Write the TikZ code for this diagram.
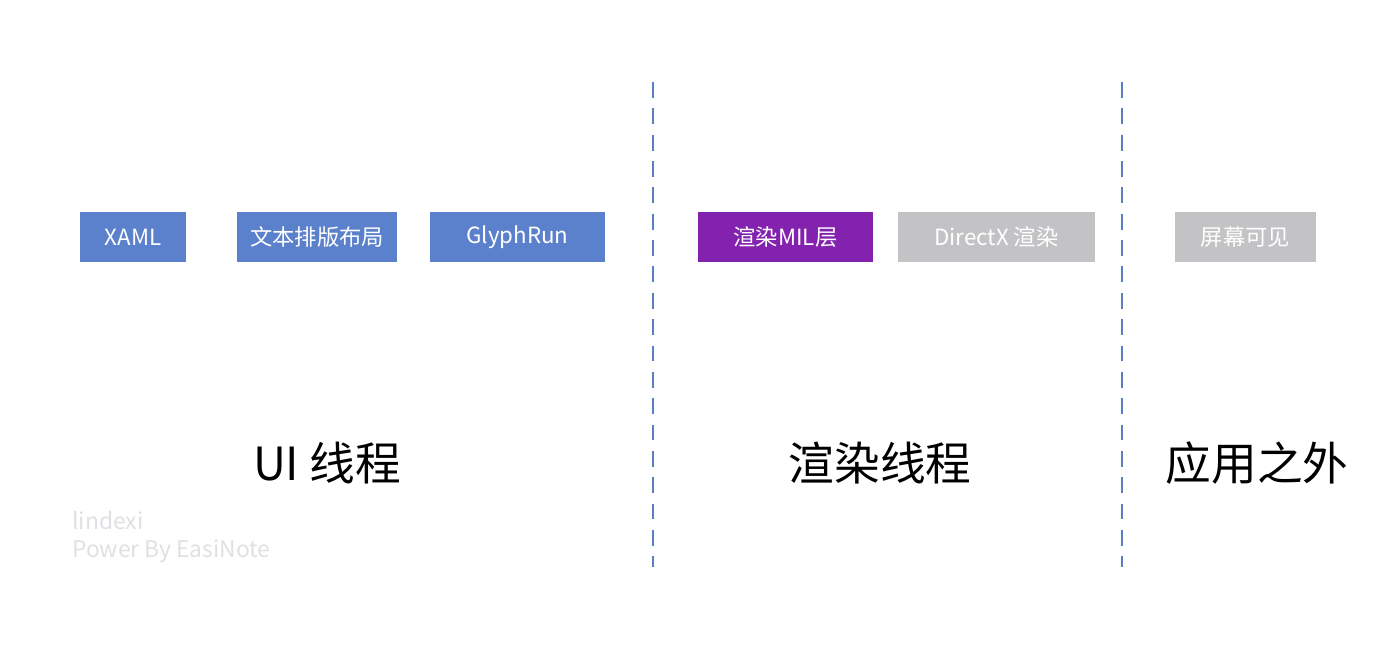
\documentclass[tikz,border=0pt]{standalone}
\usepackage{fontspec}
\setmainfont{Noto Sans CJK SC}
\usepackage{tikz}

\definecolor{stepblue}{HTML}{5B80CC}
\definecolor{milpurple}{HTML}{8422B0}
\definecolor{offgrey}{HTML}{C3C3C6}
\definecolor{markgrey}{HTML}{E0E0E4}
\definecolor{lineblue}{HTML}{5B7FC4}

\tikzset{
  stagebox/.style={minimum height=50*0.02cm, inner sep=0pt, text=white, font=\fontsize{12.7}{14}\selectfont},
  threadname/.style={font=\fontsize{26}{30}\selectfont},
  divider/.style={lineblue, dash pattern=on 9pt off 6pt, line width=1.1pt},
}

\begin{document}
\begin{tikzpicture}[x=0.02cm, y=-0.02cm]
\useasboundingbox (0,0) rectangle (1380,667);
\node [stagebox, fill=stepblue, minimum width=106*0.02cm] (xaml) at (133,237) {XAML};
\node [stagebox, fill=stepblue, minimum width=160*0.02cm] (layout) at (317,237) {文本排版布局};
\node [stagebox, fill=stepblue, minimum width=175*0.02cm] (glyph) at (517.5,237) {GlyphRun};
\node [stagebox, fill=milpurple, minimum width=175*0.02cm] (mil) at (785.5,237) {渲染MIL层};
\node [stagebox, fill=offgrey, minimum width=197*0.02cm] (dx) at (996.5,237) {DirectX 渲染};
\node [stagebox, fill=offgrey, minimum width=141*0.02cm] (screen) at (1245.5,237) {屏幕可见};
\node [threadname] (ui) at (327,463) {UI 线程};
\node [threadname] (render) at (880,463) {渲染线程};
\node [threadname] (outside) at (1257,463) {应用之外};
\node [anchor=west, text=markgrey, font=\fontsize{13}{14}\selectfont, inner sep=0pt] (author) at (72,521) {lindexi};
\node [anchor=west, text=markgrey, font=\fontsize{13}{14}\selectfont, inner sep=0pt] (power) at (72,551) {Power By EasiNote};
\coordinate (cut1top) at (653,82);
\coordinate (cut1bot) at (653,567);
\coordinate (cut2top) at (1122,82);
\coordinate (cut2bot) at (1122,567);
\draw [divider] (cut1top) -- (cut1bot);
\draw [divider] (cut2top) -- (cut2bot);
\end{tikzpicture}
\end{document}
